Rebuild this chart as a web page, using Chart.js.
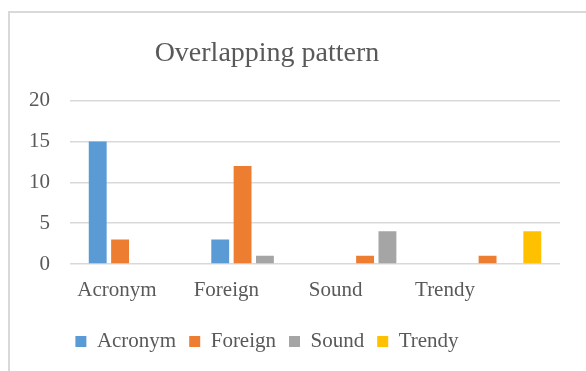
<!DOCTYPE html>
<html>
<head>
<meta charset="utf-8">
<script src="https://cdn.jsdelivr.net/npm/chart.js@4.4.1/dist/chart.umd.min.js"></script>
<style>
  html, body { margin: 0; padding: 0; background: #fff; overflow: hidden; }
  #frame { position: absolute; left: 8px; top: 11px; width: 700px; height: 500px;
           border-left: 2px solid #d9d9d9; border-top: 2px solid #d9d9d9; }
  #wrap { position: absolute; left: 0; top: 0; width: 586px; height: 371px; }
</style>
</head>
<body>
<div id="frame"></div>
<div id="wrap"><canvas id="overlapChart"></canvas></div>
<script>
// categories on the x axis
const categories = ['Acronym', 'Foreign', 'Sound', 'Trendy'];

// series values, one per category
const acronymValues = [15, 3, 0, 0];
const foreignValues = [3, 12, 1, 1];
const soundValues = [0, 1, 4, 0];
const trendyValues = [0, 0, 0, 4];

// y axis ticks
const yTicks = [0, 5, 10, 15, 20];

const textColor = '#595959';
const serif = "'Liberation Serif', 'Times New Roman', serif";

// title and legend sit a bit left of the plot in the original, so re-centre them
const shiftBlocks = {
   id: 'shiftBlocks',
   afterLayout(chart) {
       [chart.titleBlock, chart.legend].forEach(b => {
           if (!b) return;
           b.left = 9;
           b.right = 525;
           b.width = b.right - b.left;
       });
   }
};

document.addEventListener('DOMContentLoaded', function() {
   const ctx = document.getElementById('overlapChart').getContext('2d');

   new Chart(ctx, {
       type: 'bar',
       data: {
           labels: categories,
           datasets: [
               { label: 'Acronym', data: acronymValues, backgroundColor: '#5B9BD5' },
               { label: 'Foreign', data: foreignValues, backgroundColor: '#ED7D31' },
               { label: 'Sound', data: soundValues, backgroundColor: '#A5A5A5' },
               { label: 'Trendy', data: trendyValues, backgroundColor: '#FFC000' }
           ]
       },
       options: {
           responsive: true,
           maintainAspectRatio: false,
           animation: false,
           categoryPercentage: 0.73,
           barPercentage: 0.8,
           layout: {
               padding: { left: 0, right: 26, top: 0, bottom: 9 }
           },
           scales: {
               x: {
                   display: false
               },
               // label axis: the category names sit slightly off the bar groups in the source
               catNames: {
                   type: 'linear',
                   axis: 'x',
                   position: 'bottom',
                   offset: false,
                   bounds: 'data',
                   min: -0.43,
                   max: 4.052,
                   grid: { display: false, drawTicks: false, offset: false },
                   border: { display: false },
                   afterFit: function(scale) { scale.height = 54; },
                   afterBuildTicks: function(scale) {
                       scale.ticks = categories.map((c, i) => ({ value: i }));
                   },
                   ticks: {
                       autoSkip: false,
                       maxRotation: 0,
                       padding: 14,
                       color: textColor,
                       font: { family: serif, size: 21 },
                       callback: function(value) {
                           return categories[value] || '';
                       }
                   }
               },
               y: {
                   min: 0,
                   max: 20,
                   afterFit: function(scale) { scale.width = 70; },
                   afterBuildTicks: function(scale) {
                       scale.ticks = yTicks.map(v => ({ value: v }));
                   },
                   grid: { color: '#d9d9d9', lineWidth: 1.5, drawTicks: false },
                   border: { display: false },
                   ticks: {
                       padding: 20,
                       color: textColor,
                       font: { family: serif, size: 21 }
                   }
               }
           },
           plugins: {
               title: {
                   display: true,
                   text: 'Overlapping pattern',
                   color: textColor,
                   font: { family: serif, size: 28, weight: 'normal' },
                   padding: { top: 37, bottom: 30 }
               },
               legend: {
                   position: 'bottom',
                   labels: {
                       boxWidth: 11,
                       boxHeight: 11,
                       padding: 13,
                       color: textColor,
                       font: { family: serif, size: 21 }
                   }
               },
               tooltip: { enabled: false }
           }
       },
       plugins: [shiftBlocks]
   });
});
</script>
</body>
</html>
